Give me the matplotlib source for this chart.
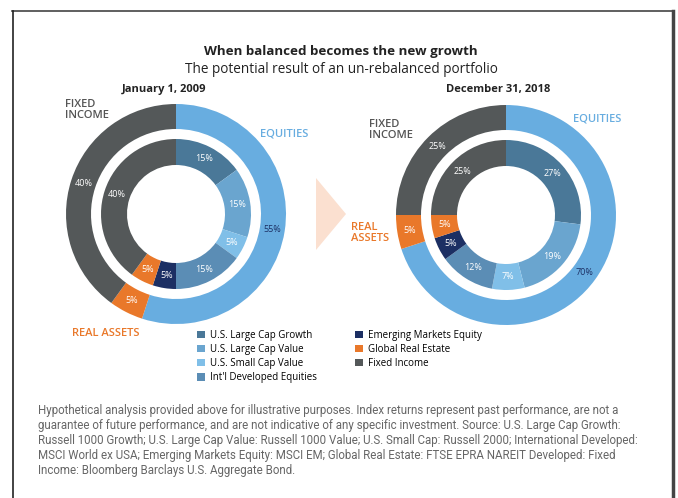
import numpy as np
import matplotlib
matplotlib.use("Agg")
import matplotlib.pyplot as plt
from matplotlib.patches import Patch, Polygon
from matplotlib.lines import Line2D

# ---- data ----
outer_labels = ["Equities", "Real Assets", "Fixed Income"]
outer_2009 = [55, 5, 40]
outer_2018 = [70, 5, 25]

inner_labels = ["U.S. Large Cap Growth", "U.S. Large Cap Value", "U.S. Small Cap Value",
                "Int'l Developed Equities", "Emerging Markets Equity", "Global Real Estate",
                "Fixed Income"]
inner_2009 = [15, 15, 5, 15, 5, 5, 40]
inner_2018 = [27, 19, 7, 12, 5, 5, 25]

outer_colors = ["#68ade0", "#e9782a", "#545859"]
inner_colors = ["#4a7898", "#6aa5cf", "#80bfe8", "#5b8db5", "#1c2f63", "#e9782a", "#545859"]
outer_text = ["#1c2f63", "white", "white"]

W, H = 678, 498
fig = plt.figure(figsize=(W / 100, H / 100), dpi=100)
ax = fig.add_axes([0, 0, 1, 1])

SANS = ["Open Sans", "DejaVu Sans"]
NARROW = ["Roboto", "DejaVu Sans"]

def Y(y):
    return H - y

R_OUT, W_OUT = 110, 25
R_IN, W_IN = 75, 26


def donut(cx, cy, outer, inner):
    c = (cx, Y(cy))
    ax.pie(outer, colors=outer_colors, radius=R_OUT, center=c, startangle=90,
           counterclock=False, frame=True,
           wedgeprops=dict(width=W_OUT, linewidth=0))
    ax.pie(inner, colors=inner_colors, radius=R_IN, center=c, startangle=90,
           counterclock=False, frame=True,
           wedgeprops=dict(width=W_IN, linewidth=0))
    # percent labels at mid-angles
    for vals, r, tcols in [(outer, R_OUT - W_OUT / 2, outer_text),
                           (inner, R_IN - W_IN / 2, ["white"] * len(inner))]:
        cum = np.cumsum([0] + list(vals))
        for i, v in enumerate(vals):
            mid = np.deg2rad(90 - 3.6 * (cum[i] + v / 2))
            ax.text(c[0] + r * np.cos(mid), c[1] + r * np.sin(mid), f"{v}%",
                    ha="center", va="center", fontsize=6.5, color=tcols[i],
                    family=SANS)


donut(176, 214, outer_2009, inner_2009)
donut(506, 215, outer_2018, inner_2018)

# chevron between the two charts
ax.add_patch(Polygon([(316, Y(178)), (346, Y(214)), (316, Y(250))],
                     closed=True, facecolor="#fbe0d0", edgecolor="none"))

# titles
ax.text(341, Y(51), "When balanced becomes the new growth", ha="center", va="center",
        fontsize=9.6, fontweight="bold", color="#222222", family=SANS)
ax.text(341, Y(69), "The potential result of an un-rebalanced portfolio", ha="center",
        va="center", fontsize=9.8, color="#222222", family=SANS)
ax.text(164, Y(89), "January 1, 2009", ha="center", va="center", fontsize=8,
        fontweight="bold", color="#222222", family=SANS)
ax.text(498, Y(89), "December 31, 2018", ha="center", va="center", fontsize=8,
        fontweight="bold", color="#222222", family=SANS)

# category labels
lab = dict(fontsize=8, fontweight="semibold", family=SANS, va="center", linespacing=1.1)
ax.text(65, Y(110), "FIXED\nINCOME", color="#555555", ha="left", **lab)
ax.text(260, Y(134), "EQUITIES", color="#68ade0", ha="left", **lab)
ax.text(72, Y(333), "REAL ASSETS", color="#e9782a", ha="left", **lab)
ax.text(369, Y(130), "FIXED\nINCOME", color="#555555", ha="left", **lab)
ax.text(573, Y(119), "EQUITIES", color="#68ade0", ha="left", **lab)
ax.text(351, Y(233), "REAL\nASSETS", color="#e9782a", ha="left", **lab)

# legend
handles = [Patch(facecolor=c, edgecolor="none") for c in inner_colors]
fig.legend(handles, inner_labels, loc="upper left", bbox_to_anchor=(188 / W, 1 - 321 / H),
           ncol=2, frameon=False, handlelength=0.85, handleheight=0.85,
           handletextpad=0.5, columnspacing=3.9, labelspacing=0.32,
           prop=dict(family=SANS, size=7))

# footnote
foot = ("Hypothetical analysis provided above for illustrative purposes. Index returns represent past performance, are not a\n"
        "guarantee of future performance, and are not indicative of any specific investment. Source: U.S. Large Cap Growth:\n"
        "Russell 1000 Growth; U.S. Large Cap Value: Russell 1000 Value; U.S. Small Cap: Russell 2000; International Developed:\n"
        "MSCI World ex USA; Emerging Markets Equity: MSCI EM; Global Real Estate: FTSE EPRA NAREIT Developed: Fixed\n"
        "Income: Bloomberg Barclays U.S. Aggregate Bond.")
ax.text(38, Y(404), foot, ha="left", va="top", fontsize=8.3, color="#666666",
        family=NARROW, linespacing=1.2)

# frame lines
ax.add_line(Line2D([12, 673], [Y(11), Y(11)], color="#444444", lw=1.2))
ax.add_line(Line2D([12.5, 12.5], [Y(11), 0], color="#222222", lw=1.2))
ax.add_line(Line2D([673, 673], [Y(11), 0], color="#444444", lw=2.5))

ax.set_xlim(0, W)
ax.set_ylim(0, H)
ax.set_aspect("auto")
ax.axis("off")

fig.savefig("out.png", dpi=100)
